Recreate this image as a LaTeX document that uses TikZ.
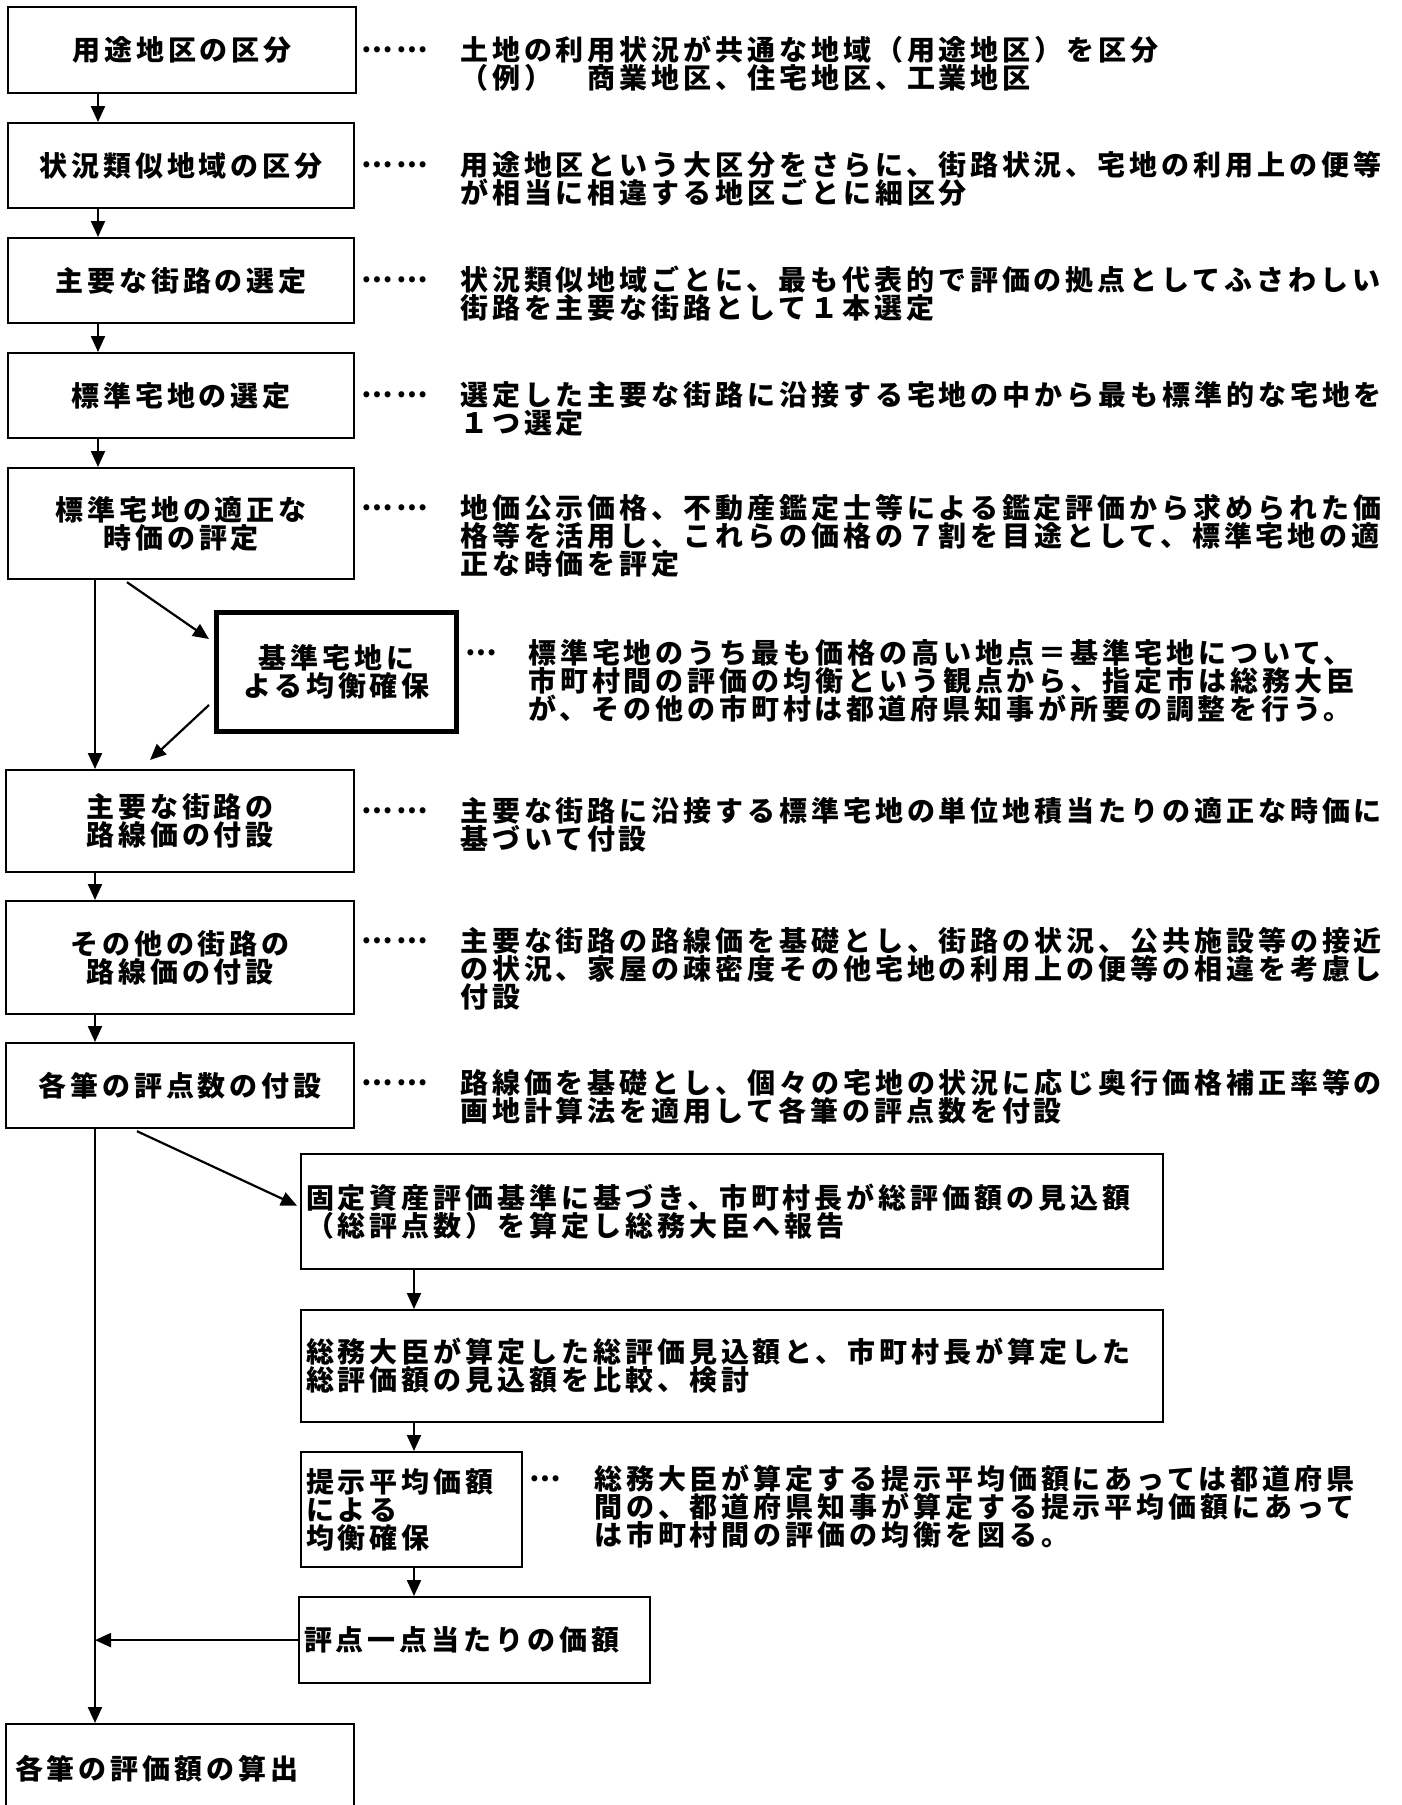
\documentclass[tikz,border=0pt]{standalone}
\usepackage{fontspec}
\newfontfamily\jp{Noto Sans CJK JP}[LetterSpace=14]
\usetikzlibrary{arrows.meta,calc}

\begin{document}
\begin{tikzpicture}[x=1pt,y=-1pt,
    every node/.style={font=\jp\bfseries\fontsize{28}{28}\selectfont},
    box/.style={draw, line width=2.2pt, anchor=north west, inner sep=0pt, align=center},
    lbox/.style={box, align=left, inner xsep=5pt},
    desc/.style={anchor=north west, align=left, inner sep=0pt},
    dots/.style={anchor=west, inner sep=0pt},
    arr/.style={line width=2.2pt, -{Triangle[length=16pt,width=14pt]}}]
    \useasboundingbox (0,0) rectangle (1401,1805);

    % Left column of steps
    \node[box, minimum width=348pt, minimum height=86pt] (b1) at (7,6) {用途地区の区分};
    \node[box, minimum width=346pt, minimum height=85pt] (b2) at (7,122) {状況類似地域の区分};
    \node[box, minimum width=346pt, minimum height=85pt] (b3) at (7,237) {主要な街路の選定};
    \node[box, minimum width=346pt, minimum height=85pt] (b4) at (7,352) {標準宅地の選定};
    \node[box, minimum width=346pt, minimum height=111pt] (b5) at (7,467) {標準宅地の適正な\\時価の評定};
    \node[box, line width=5pt, minimum width=240pt, minimum height=119pt] (kijun) at (214,610) {基準宅地に\\よる均衡確保};
    \node[box, minimum width=348pt, minimum height=102pt] (b6) at (5,769) {主要な街路の\\路線価の付設};
    \node[box, minimum width=348pt, minimum height=113pt] (b7) at (5,900) {その他の街路の\\路線価の付設};
    \node[box, minimum width=348pt, minimum height=85pt] (b8) at (5,1042) {各筆の評点数の付設};

    % Right branch
    \node[lbox, text width=852pt, minimum height=115pt] (b9) at (300,1153) {固定資産評価基準に基づき、市町村長が総評価額の見込額\\（総評点数）を算定し総務大臣へ報告};
    \node[lbox, text width=852pt, minimum height=112pt] (b10) at (300,1309) {総務大臣が算定した総評価見込額と、市町村長が算定した\\総評価額の見込額を比較、検討};
    \node[lbox, text width=211pt, minimum height=115pt] (b11) at (300,1451) {提示平均価額\\による\\均衡確保};
    \node[lbox, text width=341pt, minimum height=86pt] (b12) at (298,1596) {評点一点当たりの価額};
    \node[lbox, inner xsep=9pt, text width=330pt, minimum height=90pt] (b13) at (5,1723) {各筆の評価額の算出};

    % Explanations
    \node[dots] (t1) at (361,50) {……};
    \node[dots] (t2) at (361,165) {……};
    \node[dots] (t3) at (361,280) {……};
    \node[dots] (t4) at (361,395) {……};
    \node[dots] (t5) at (361,508) {……};
    \node[dots] (tk) at (465,653) {…};
    \node[dots] (t6) at (361,811) {……};
    \node[dots] (t7) at (361,941) {……};
    \node[dots] (t8) at (361,1083) {……};
    \node[dots] (t11) at (529,1479) {…};

    \node[desc] (d1) at (460,36) {土地の利用状況が共通な地域（用途地区）を区分\\（例）　商業地区、住宅地区、工業地区};
    \node[desc] (d2) at (460,151) {用途地区という大区分をさらに、街路状況、宅地の利用上の便等\\が相当に相違する地区ごとに細区分};
    \node[desc] (d3) at (460,266) {状況類似地域ごとに、最も代表的で評価の拠点としてふさわしい\\街路を主要な街路として１本選定};
    \node[desc] (d4) at (460,381) {選定した主要な街路に沿接する宅地の中から最も標準的な宅地を\\１つ選定};
    \node[desc] (d5) at (460,494) {地価公示価格、不動産鑑定士等による鑑定評価から求められた価\\格等を活用し、これらの価格の７割を目途として、標準宅地の適\\正な時価を評定};
    \node[desc] (dk) at (528,639) {標準宅地のうち最も価格の高い地点＝基準宅地について、\\市町村間の評価の均衡という観点から、指定市は総務大臣\\が、その他の市町村は都道府県知事が所要の調整を行う。};
    \node[desc] (d6) at (460,797) {主要な街路に沿接する標準宅地の単位地積当たりの適正な時価に\\基づいて付設};
    \node[desc] (d7) at (460,927) {主要な街路の路線価を基礎とし、街路の状況、公共施設等の接近\\の状況、家屋の疎密度その他宅地の利用上の便等の相違を考慮し\\付設};
    \node[desc] (d8) at (460,1069) {路線価を基礎とし、個々の宅地の状況に応じ奥行価格補正率等の\\画地計算法を適用して各筆の評点数を付設};
    \node[desc] (d11) at (594,1465) {総務大臣が算定する提示平均価額にあっては都道府県\\間の、都道府県知事が算定する提示平均価額にあって\\は市町村間の評価の均衡を図る。};

    % Arrows
    \coordinate (spineA) at (98,0);
    \coordinate (spineB) at (95,0);
    \coordinate (spineC) at (414,0);
    \foreach \a/\b in {b1/b2,b2/b3,b3/b4,b4/b5}
        \draw[arr] (\a.south -| spineA) -- (\b.north -| spineA);
    \foreach \a/\b in {b5/b6,b6/b7,b7/b8,b8/b13}
        \draw[arr] (\a.south -| spineB) -- (\b.north -| spineB);
    \foreach \a/\b in {b9/b10,b10/b11,b11/b12}
        \draw[arr] (\a.south -| spineC) -- (\b.north -| spineC);
    \draw[arr] ($(b5.south west)+(120,2)$) -- ($(kijun.west)+(-5,-33)$);
    \draw[arr] ($(kijun.west)+(-5,33)$) -- ($(b6.north west)+(145,-9)$);
    \draw[arr] ($(b8.south west)+(132,2)$) -- ($(b9.west)+(-3,-6)$);
    \draw[arr] (b12.west) -- (b12.west -| spineB);
\end{tikzpicture}
\end{document}
